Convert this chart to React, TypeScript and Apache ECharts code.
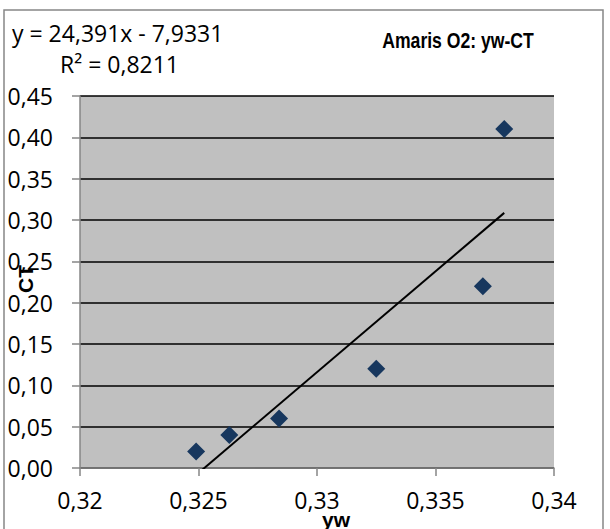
import React, { useEffect, useRef } from "react";
import * as echarts from "echarts";

const ywValues = [0.3249, 0.3263, 0.3284, 0.3325, 0.337, 0.3379];
const ctValues = [0.02, 0.04, 0.06, 0.12, 0.22, 0.41];
const trendSlope = 24.391;
const trendIntercept = -7.9331;
const equationText = "y = 24,391x - 7,9331";
const r2Text = "R² = 0,8211";
const titleText = "Amaris O2: yw-CT";
const xTitle = "yw";
const yTitle = "CT";

const fmtY = (v: number) => v.toFixed(2).replace(".", ",");
const fmtX = (v: number) => String(Math.round(v * 1000) / 1000).replace(".", ",");

export default function App() {
  const ref = useRef<HTMLDivElement>(null);
  useEffect(() => {
    if (!ref.current) return;
    const chart = echarts.init(ref.current, undefined, { renderer: "svg" });
    const xMin = Math.min(...ywValues);
    const xMax = Math.max(...ywValues);
    const trend = [
      [xMin, trendSlope * xMin + trendIntercept],
      [xMax, trendSlope * xMax + trendIntercept],
    ];
    const labelFont = "'Open Sans', 'Noto Sans', sans-serif";
    const boldFont = "'Liberation Sans', Arial, sans-serif";
    chart.setOption({
      animation: false,
      backgroundColor: "#ffffff",
      grid: {
        left: 80,
        right: 56,
        top: 96,
        bottom: 61,
        show: true,
        backgroundColor: "#C0C0C0",
        borderWidth: 0,
        containLabel: false,
        outerBoundsMode: "none",
      },
      xAxis: {
        type: "value",
        min: 0.32,
        max: 0.34,
        interval: 0.005,
        axisLine: { show: true, onZero: false, lineStyle: { color: "#868686", width: 1.5 } },
        axisTick: { show: true, length: 8, lineStyle: { color: "#868686", width: 1.5 } },
        splitLine: { show: false },
        axisLabel: {
          formatter: fmtX,
          margin: 20,
          color: "#000",
          fontFamily: labelFont,
          fontSize: 23,
        },
      },
      yAxis: {
        type: "value",
        min: 0,
        max: 0.45,
        interval: 0.05,
        axisLine: { show: true, lineStyle: { color: "#868686", width: 1.5 } },
        axisTick: { show: true, length: 8, lineStyle: { color: "#868686", width: 1.5 } },
        splitLine: { show: true, lineStyle: { color: "#000", width: 1.5 } },
        axisLabel: {
          formatter: fmtY,
          margin: 27,
          color: "#000",
          fontFamily: labelFont,
          fontSize: 23,
        },
      },
      series: [
        {
          type: "scatter",
          data: ywValues.map((x, i) => [x, ctValues[i]]),
          symbol: "diamond",
          symbolSize: 18,
          itemStyle: { color: "#17375E", opacity: 1 },
          z: 3,
        },
        {
          type: "line",
          data: trend,
          showSymbol: false,
          symbol: "none",
          clip: true,
          lineStyle: { color: "#000", width: 2 },
          z: 2,
        },
      ],
      graphic: [
        {
          type: "rect",
          shape: { x: 4, y: 10, width: 599, height: 540 },
          style: { fill: "none", stroke: "#878787", lineWidth: 1.5 },
          z: -10,
        },
        {
          type: "text",
          x: 12,
          y: 33,
          style: {
            text: equationText,
            fontFamily: labelFont,
            fontSize: 23,
            fill: "#000",
            verticalAlign: "middle",
          },
        },
        {
          type: "text",
          x: 60,
          y: 64,
          style: {
            text: r2Text,
            fontFamily: labelFont,
            fontSize: 23,
            fill: "#000",
            verticalAlign: "middle",
          },
        },
        {
          type: "text",
          x: 458,
          y: 40,
          scaleX: 0.8,
          style: {
            text: titleText,
            fontFamily: boldFont,
            fontWeight: "bold",
            fontSize: 22,
            fill: "#000",
            align: "center",
            verticalAlign: "middle",
          },
        },
        {
          type: "text",
          x: 25,
          y: 279,
          rotation: Math.PI / 2,
          style: {
            text: yTitle,
            fontFamily: boldFont,
            fontWeight: "bold",
            fontSize: 21,
            fill: "#000",
            align: "center",
            verticalAlign: "middle",
          },
        },
        {
          type: "text",
          x: 336,
          y: 519,
          style: {
            text: xTitle,
            fontFamily: boldFont,
            fontWeight: "bold",
            fontSize: 21,
            fill: "#000",
            align: "center",
            verticalAlign: "middle",
          },
        },
      ],
    });
    return () => chart.dispose();
  }, []);
  return (
    <div
      ref={ref}
      style={{ position: "fixed", left: 0, top: 0, width: 610, height: 529 }}
    />
  );
}
